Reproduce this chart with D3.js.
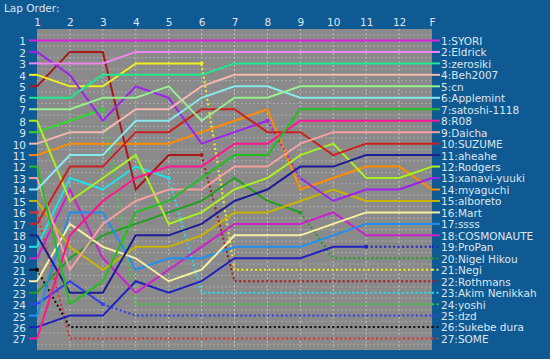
<!doctype html>
<html lang="en">
<head>
<meta charset="utf-8"/>
<title>Lap Order</title>
<script src="https://d3js.org/d3.v7.min.js"></script>
<style>
    body { margin: 0; background: #105a94; }
    text { font-family: "DejaVu Sans", Verdana, sans-serif; font-size: 10.5px; fill: #dce6f0; }
</style>
</head>
<body>
<svg id="chart"></svg>
<script>
    // laps shown on the top axis
    const lapLabels = ["1", "2", "3", "4", "5", "6", "7", "8", "9", "10", "11", "12", "F"];

    // drivers in finishing order
    const drivers = ["SYORI", "Eldrick", "zerosiki", "Beh2007", "cn", "Applemint", "satoshi-1118",
        "R08", "Daicha", "SUZUME", "aheahe", "Rodgers", "xanavi-yuuki", "myaguchi", "alboreto",
        "Mart", "ssss", "COSMONAUTE", "ProPan", "Nigel Hikou", "Negi", "Rothmans", "Akim Nenikkah",
        "yoshi", "dzd", "Sukebe dura", "SOME"];

    // position of each driver at laps 1..12 and at the finish
    const positions = [
        [1, 1, 1, 1, 1, 1, 1, 1, 1, 1, 1, 1, 1],
        [3, 3, 3, 2, 2, 2, 2, 2, 2, 2, 2, 2, 2],
        [6, 6, 4, 4, 4, 4, 3, 3, 3, 3, 3, 3, 3],
        [10, 9, 9, 7, 7, 5, 4, 4, 4, 4, 4, 4, 4],
        [7, 7, 6, 6, 5, 8, 6, 6, 5, 5, 5, 5, 5],
        [14, 11, 11, 8, 8, 6, 5, 5, 6, 6, 6, 6, 6],
        [12, 24, 22, 16, 15, 13, 11, 11, 7, 7, 7, 7, 7],
        [27, 18, 15, 13, 12, 12, 10, 10, 8, 8, 8, 8, 8],
        [13, 21, 17, 15, 14, 14, 12, 12, 10, 9, 9, 9, 9],
        [17, 12, 12, 9, 9, 7, 7, 9, 9, 11, 10, 10, 10],
        [18, 23, 23, 18, 18, 17, 15, 14, 12, 12, 11, 11, 11],
        [8, 15, 13, 11, 17, 16, 14, 13, 11, 10, 13, 13, 12],
        [2, 4, 8, 5, 6, 10, 9, 8, 13, 15, 14, 14, 13],
        [11, 10, 10, 10, 10, 9, 8, 7, 14, 13, 12, 12, 14],
        [15, 19, 21, 19, 19, 18, 16, 16, 15, 14, 15, 15, 15],
        [22, 17, 19, 20, 22, 21, 18, 18, 18, 17, 16, 16, 16],
        [25, 16, 16, 21, 20, 20, 19, 19, 19, 18, 17, 17, 17],
        [20, 14, 20, 23, 21, 19, 17, 17, 17, 16, 18, 18, 18],
        [26, 25, 25, 22, 23, 22, 20, 20, 20, 19, 19, 19, 19],
        [23, 20, 18, 17, 16, 15, 13, 15, 16, 20, 20, 20, 20],
        [4, 5, 5, 3, 3, 3, 21, 21, 21, 21, 21, 21, 21],
        [5, 2, 2, 14, 11, 11, 22, 22, 22, 22, 22, 22, 22],
        [19, 13, 14, 12, 13, 23, 23, 23, 23, 23, 23, 23, 23],
        [9, 8, 7, 24, 24, 24, 24, 24, 24, 24, 24, 24, 24],
        [24, 22, 24, 25, 25, 25, 25, 25, 25, 25, 25, 25, 25],
        [21, 26, 26, 26, 26, 26, 26, 26, 26, 26, 26, 26, 26],
        [16, 27, 27, 27, 27, 27, 27, 27, 27, 27, 27, 27, 27]
    ];

    // last lap completed before retiring (null = finished)
    const retiredAfter = [null, null, null, null, null, null, null, null, null, null, null, null, null,
        null, null, null, null, null, 11, 9, 6, 6, 5, 3, 3, 1, 1];

    // single dotted legs for drivers still running
    const pitLegs = [{driver: "xanavi-yuuki", lap: 8}];

    const colors = ["#e020e0", "#ee88ee", "#20e890", "#f4b8b0", "#98ee90", "#88e8f0", "#20c020",
        "#ff1493", "#f4a0a0", "#cc2020", "#1c1c98", "#a8f020", "#a020f0", "#ff8c00", "#c8b400",
        "#f8f0a0", "#2090f0", "#cc20cc", "#2020c0", "#20a020", "#f0f020", "#a81818", "#20e0f0",
        "#30d830", "#3040f0", "#101010", "#e03030"];

    const width = 550, height = 359;
    const plot = {left: 37, right: 432, top: 29, bottom: 350};

    const svg = d3.select("#chart")
        .attr("width", width)
        .attr("height", height);

    svg.append("rect")
        .attr("width", width)
        .attr("height", height)
        .attr("fill", "#105a94");

    svg.append("text")
        .attr("x", 4)
        .attr("y", 12)
        .text("Lap Order:");

    let x = d3.scaleLinear()
        .domain([1, lapLabels.length])
        .range([plot.left, plot.right]);

    let y = d3.scaleLinear()
        .domain([0, drivers.length + 1])
        .range([plot.top, plot.bottom]);

    svg.append("rect")
        .attr("x", plot.left)
        .attr("y", plot.top)
        .attr("width", plot.right - plot.left)
        .attr("height", plot.bottom - plot.top)
        .attr("fill", "#8a8a8a");

    // grid
    let grid = svg.append("g");
    grid.selectAll("line.h")
        .data(d3.range(0, drivers.length + 1))
        .enter()
        .append("line")
        .attr("x1", plot.left)
        .attr("x2", plot.right)
        .attr("y1", d => y(d + 0.5))
        .attr("y2", d => y(d + 0.5))
        .attr("stroke", "#a8a8a8")
        .attr("stroke-dasharray", "2,2");

    grid.selectAll("line.v")
        .data(d3.range(2, lapLabels.length))
        .enter()
        .append("line")
        .attr("x1", d => x(d))
        .attr("x2", d => x(d))
        .attr("y1", plot.top)
        .attr("y2", plot.bottom)
        .attr("stroke", "#bdbdbd")
        .attr("stroke-dasharray", "2,2");

    // axes
    let topAxis = d3.axisTop(x)
        .tickValues(d3.range(1, lapLabels.length + 1))
        .tickFormat(d => lapLabels[d - 1])
        .tickSize(0)
        .tickPadding(3);

    let leftAxis = d3.axisLeft(y)
        .tickValues(d3.range(1, drivers.length + 1))
        .tickSize(0)
        .tickPadding(11);

    let gTop = svg.append("g")
        .attr("transform", "translate(0," + plot.top + ")")
        .call(topAxis);
    let gLeft = svg.append("g")
        .attr("transform", "translate(" + plot.left + ",0)")
        .call(leftAxis);

    [gTop, gLeft].forEach(g => {
        g.select(".domain").remove();
        g.selectAll("text").attr("fill", null);
        g.attr("font-family", null).attr("font-size", null);
    });
    gLeft.selectAll("text").attr("dy", "0.42em");

    // lines
    let line = d3.line()
        .x(d => x(d.lap))
        .y(d => y(d.pos));

    let lines = svg.append("g").attr("fill", "none");

    d3.range(drivers.length - 1, -1, -1).forEach(i => {
        let name = drivers[i];
        let pos = positions[i];
        let color = colors[i];
        let g = lines.append("g");

        let isDotted = k => {
            if (retiredAfter[i] !== null && k >= retiredAfter[i]) return true;
            return pitLegs.some(p => p.driver === name && p.lap === k);
        };

        // split the laps into runs of solid and dotted legs
        let runs = [];
        for (let k = 1; k < pos.length; k++) {
            let dotted = isDotted(k);
            let last = runs[runs.length - 1];
            if (!last || last.dotted !== dotted) {
                last = {dotted: dotted, pts: [{lap: k, pos: pos[k - 1]}]};
                runs.push(last);
            }
            last.pts.push({lap: k + 1, pos: pos[k]});
        }

        runs.forEach(r => {
            g.append("path")
                .attr("d", line(r.pts))
                .attr("stroke", color)
                .attr("stroke-width", 2)
                .attr("stroke-dasharray", r.dotted ? "2,2.5" : null);
        });

        // stubs leading to the axis labels
        g.append("line")
            .attr("x1", plot.left - 8)
            .attr("x2", plot.left)
            .attr("y1", y(pos[0]))
            .attr("y2", y(pos[0]))
            .attr("stroke", color)
            .attr("stroke-width", 2);

        g.append("line")
            .attr("x1", plot.right)
            .attr("x2", plot.right + 8)
            .attr("y1", y(pos[pos.length - 1]))
            .attr("y2", y(pos[pos.length - 1]))
            .attr("stroke", color)
            .attr("stroke-width", 2)
            .attr("stroke-dasharray", retiredAfter[i] !== null ? "2,2.5" : null);

        let marks = [];
        if (retiredAfter[i] !== null) marks.push(retiredAfter[i]);
        pitLegs.filter(p => p.driver === name).forEach(p => marks.push(p.lap));
        marks.forEach(k => {
            g.append("circle")
                .attr("cx", x(k))
                .attr("cy", y(pos[k - 1]))
                .attr("r", 2)
                .attr("fill", color);
        });
    });

    // finishing labels
    svg.append("g")
        .selectAll("text")
        .data(drivers)
        .enter()
        .append("text")
        .attr("x", plot.right + 9)
        .attr("y", (d, i) => y(positions[i][positions[i].length - 1]))
        .attr("dy", "0.42em")
        .text((d, i) => (i + 1) + ":" + d);
</script>
</body>
</html>
